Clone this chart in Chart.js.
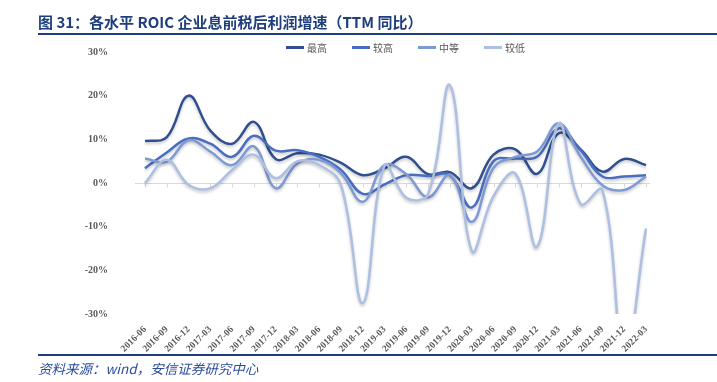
<!DOCTYPE html>
<html>
<head>
<meta charset="utf-8">
<script src="https://cdn.jsdelivr.net/npm/chart.js@4.4.1/dist/chart.umd.min.js"></script>
<style>
	body { margin: 0; width: 717px; height: 382px; background: #fff; position: relative; overflow: hidden; }
	#title { position: absolute; left: 38px; top: 11px; font: bold 15px "Noto Sans CJK SC", sans-serif; color: #1F3E7C; white-space: nowrap; }
	#topline { position: absolute; left: 38px; right: 0; top: 33px; height: 2px; background: #1F3E7C; }
	#botline { position: absolute; left: 38px; right: 0; top: 354px; height: 2px; background: #1F3E7C; }
	#source { position: absolute; left: 38px; top: 358px; font: italic 13.5px "Noto Sans CJK SC", sans-serif; color: #2A4DA0; white-space: nowrap; }
	#legend { position: absolute; left: 286px; top: 40px; display: flex; font: 10px "Noto Sans CJK SC", serif; color: #595959; }
	#legend span.item { display: flex; align-items: center; margin-right: 25px; }
	#legend span.swatch { display: inline-block; width: 18px; height: 3px; margin-right: 3px; }
	canvas { position: absolute; left: 0; top: 0; }
</style>
</head>
<body>
<canvas id="myChart" width="717" height="382"></canvas>
<div id="title">图 31：各水平 ROIC 企业息前税后利润增速（TTM 同比）</div>
<div id="topline"></div>
<div id="legend"></div>
<div id="botline"></div>
<div id="source">资料来源：wind，安信证券研究中心</div>
<script>
const quarters = ['2016-06','2016-09','2016-12','2017-03','2017-06','2017-09','2017-12','2018-03',
	'2018-06','2018-09','2018-12','2019-03','2019-06','2019-09','2019-12','2020-03',
	'2020-06','2020-09','2020-12','2021-03','2021-06','2021-09','2021-12','2022-03'];

// TTM yoy growth, %
const highest = [9.6, 10.5, 20, 12, 9, 14, 5.5, 6.8, 6.5, 4.6, 1.8, 3.4, 6, 2, 2.5, -1.2, 6.5, 7.7, 2.1, 11.4, 7.7, 2.6, 5.5, 4.1];
const higher = [3.4, 7, 10.2, 9, 6, 10.8, 7.4, 7.5, 6, 3, -2.5, -0.3, 1.8, 1.6, 1.8, -5.6, 5, 5.6, 6, 12.5, 7.5, 1.5, 1.5, 1.8];
const middle = [5.6, 4.9, 9.8, 7.2, 4.1, 8.4, -1.2, 4.5, 5.3, 2.2, -4.3, 4.1, 2, -3.3, 1.8, -8.9, 3.5, 6, 7.2, 13.7, 6, -0.5, -1.6, 1.5];
const lower = [0, 5.3, -0.4, -1.2, 3, 6.5, 1.1, 5, 4.1, -0.5, -27.5, 4, -3.4, -2.5, 22.4, -15.5, -3, 2.2, -14.6, 13.7, -4.8, -1.6, -40, -10.4];

const seriesNames = ['最高', '较高', '中等', '较低'];
const seriesColors = ['#2F4F8F', '#4A6EBF', '#7E9AD4', '#ADBFE3'];
const yTicks = [-30, -20, -10, 0, 10, 20, 30];

// zero line with small tick marks, like the category axis in the original
const zeroAxis = {
	id: 'zeroAxis',
	beforeDatasetsDraw(chart) {
		const ctx = chart.ctx, x = chart.scales.x, y = chart.scales.y;
		const y0 = Math.round(y.getPixelForValue(0)) + 0.5;
		ctx.save();
		ctx.strokeStyle = '#D9D9D9';
		ctx.lineWidth = 1;
		ctx.beginPath();
		ctx.moveTo(x.left - 10, y0);
		ctx.lineTo(x.right + 4, y0);
		for (let i = 0; i < quarters.length; i++) {
			const px = Math.round(x.getPixelForValue(i)) + 0.5;
			ctx.moveTo(px, y0);
			ctx.lineTo(px, y0 + 4);
		}
		ctx.stroke();
		ctx.restore();
		ctx.save();
		ctx.shadowColor = 'rgba(0,0,0,0.22)';
		ctx.shadowBlur = 3;
		ctx.shadowOffsetY = 2;
	},
	afterDatasetsDraw(chart) {
		chart.ctx.restore();
	}
};

const values = [highest, higher, middle, lower];
const datasets = values.map((d, i) => ({
	label: seriesNames[i],
	data: d,
	borderColor: seriesColors[i],
	backgroundColor: seriesColors[i],
	borderWidth: 2.5,
	pointRadius: 0,
	tension: 0.4,
	fill: false
})).reverse();

const ctx = document.getElementById('myChart');
const chart = new Chart(ctx, {
	type: 'line',
	data: { labels: quarters, datasets: datasets },
	options: {
		responsive: false,
		animation: false,
		devicePixelRatio: 1,
		layout: { padding: { top: 52, right: 71, left: 0, bottom: 0 } },
		plugins: { legend: { display: false }, tooltip: { enabled: false } },
		scales: {
			x: {
				offset: false,
				grid: { display: false },
				border: { display: false },
				afterFit(scale) { scale.height = 68; },
				ticks: {
					autoSkip: false, maxRotation: 45, minRotation: 45, padding: 2,
					color: '#595959', font: { family: 'Liberation Serif', size: 9.5, weight: 'bold' }
				}
			},
			y: {
				min: -30, max: 30,
				afterBuildTicks(scale) { scale.ticks = yTicks.map(v => ({ value: v })); },
				afterFit(scale) { scale.width = 145; },
				grid: { display: false, drawTicks: false },
				border: { display: false },
				ticks: {
					padding: 37, color: '#595959',
					font: { family: 'Liberation Serif', size: 10, weight: 'bold' },
					callback: v => v + '%'
				}
			}
		}
	},
	plugins: [zeroAxis]
});

// legend in the original order
const legend = document.getElementById('legend');
seriesNames.forEach((n, i) => {
	const item = document.createElement('span');
	item.className = 'item';
	item.innerHTML = '<span class="swatch" style="background:' + seriesColors[i] + '"></span>' + n;
	legend.appendChild(item);
});
</script>
</body>
</html>
